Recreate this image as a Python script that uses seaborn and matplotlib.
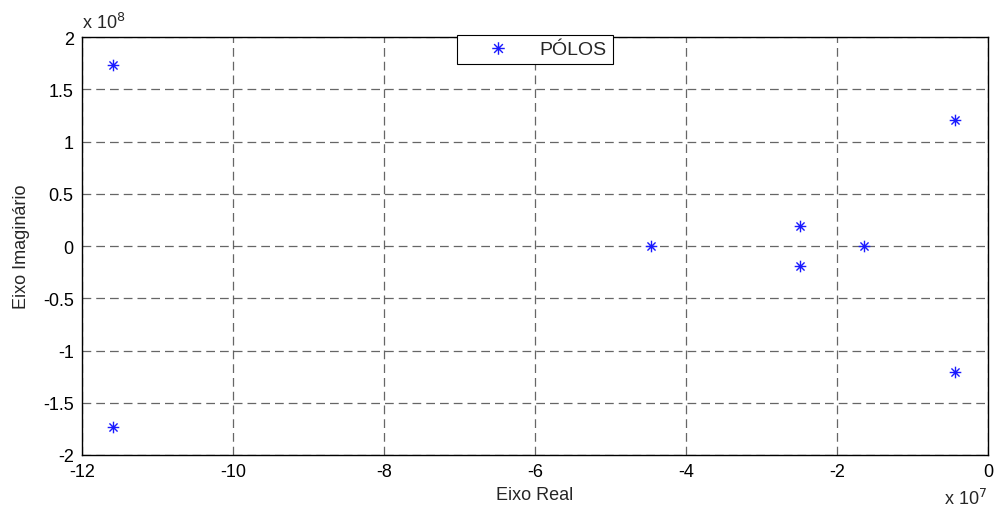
import numpy as np
import pandas as pd
import matplotlib
matplotlib.use("Agg")
import matplotlib.pyplot as plt
from matplotlib.path import Path
from matplotlib.lines import Line2D
import seaborn as sns

# Data: poles (real, imaginary)
real_part = [-1.159e8, -1.159e8, -4.46e7, -2.49e7, -2.49e7, -1.64e7, -4.4e6, -4.4e6]
imag_part = [1.732e8, -1.732e8, 0.0, 1.95e7, -1.95e7, 0.0, 1.21e8, -1.21e8]
series_label = "PÓLOS"
x_ticks = [-12, -10, -8, -6, -4, -2, 0]
y_ticks = [-2, -1.5, -1, -0.5, 0, 0.5, 1, 1.5, 2]

sns.set_style("white")
plt.rcParams['font.family'] = ['Liberation Sans', 'DejaVu Sans']

df = pd.DataFrame({"re": np.array(real_part) / 1e7, "im": np.array(imag_part) / 1e8})

FS = 13

fig = plt.figure(figsize=(9.95, 5.10), dpi=100)
ax = fig.add_axes([82 / 995, 1 - 456 / 510, (988 - 82) / 995, (456 - 38) / 510])

verts = [(-1, 0), (1, 0), (0, -1), (0, 1),
         (-0.7, -0.7), (0.7, 0.7), (-0.7, 0.7), (0.7, -0.7)]
codes = [Path.MOVETO, Path.LINETO] * 4
star = Path(verts, codes)

sns.scatterplot(data=df, x="re", y="im", marker=star, s=70, color="#1a1aff",
                edgecolor="#1a1aff", linewidth=1.0, ax=ax, legend=False, zorder=3)

ax.set_xlim(-12, 0)
ax.set_ylim(-2, 2)
ax.set_xticks(x_ticks)
ax.set_yticks(y_ticks)
ax.set_xticklabels([f"{v:g}" for v in x_ticks])
ax.set_yticklabels([f"{v:g}" for v in y_ticks])
ax.tick_params(direction="in", length=4, width=0.8, labelsize=FS, pad=6, colors="black")
ax.grid(True, color="#333333", linestyle=(0, (7, 4)), linewidth=0.9, alpha=0.75)
for sp in ax.spines.values():
    sp.set_visible(True)
    sp.set_color("black")
    sp.set_linewidth(1.0)

ax.set_xlabel("Eixo Real", fontsize=FS, labelpad=4)
ax.set_ylabel("Eixo Imaginário", fontsize=FS, labelpad=9.5)

fig.text(82 / 995, 1 - 29 / 510, r"x 10$^{8}$", fontsize=FS, ha="left", va="baseline")
fig.text(987 / 995, 1 - 505 / 510, r"x 10$^{7}$", fontsize=FS, ha="right", va="baseline")

handle = Line2D([], [], linestyle="none", marker=star, markersize=9,
                color="#1a1aff", markeredgewidth=1.0)
leg = ax.legend([handle], [series_label], loc="upper left",
                bbox_to_anchor=(457 / 995, 1 - 36 / 510), bbox_transform=fig.transFigure,
                fancybox=False, framealpha=1, edgecolor="black", fontsize=14,
                borderpad=0.3, handletextpad=0.35, borderaxespad=0, handlelength=3.6)
leg.get_frame().set_linewidth(0.8)

fig.savefig("out.png", dpi=100)
